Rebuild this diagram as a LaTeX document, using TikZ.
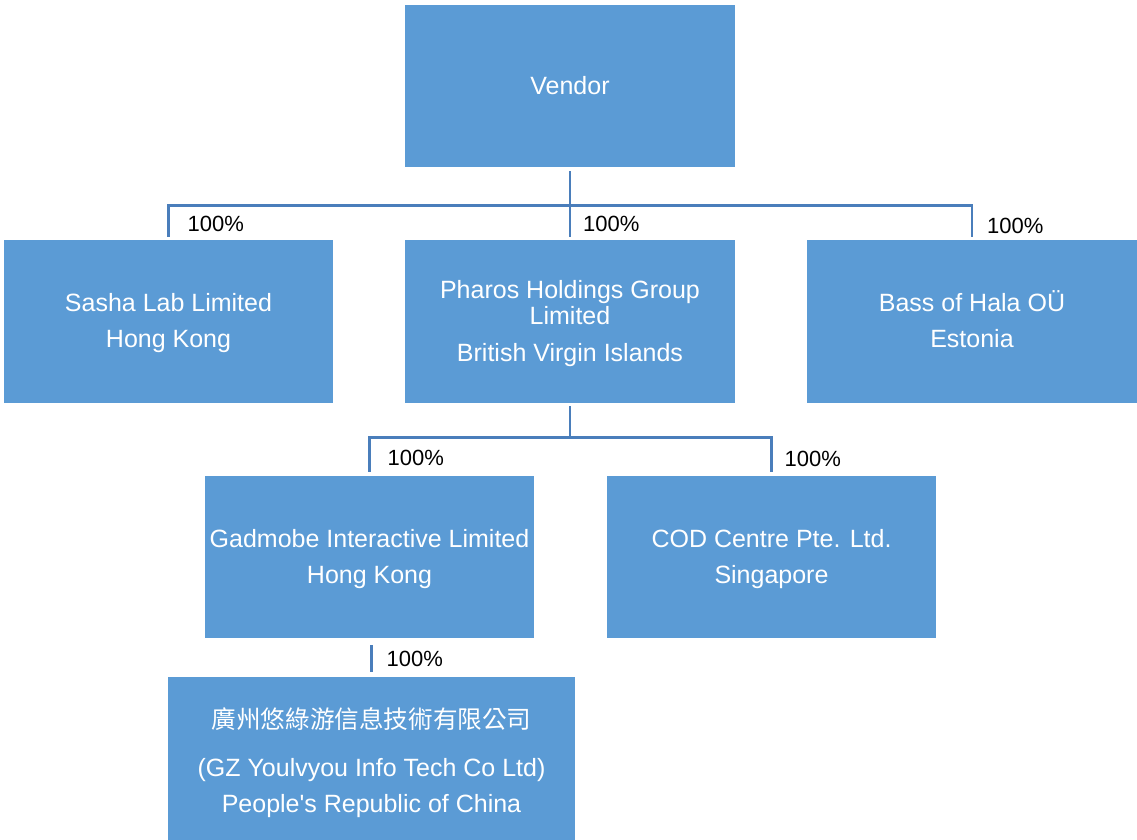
\documentclass[tikz,border=0pt]{standalone}
\usepackage{fontspec}
\usetikzlibrary{calc}
\setmainfont{Liberation Sans}
\newfontfamily\plainsans{Liberation Sans}
\newfontfamily\cjkfont{Noto Sans CJK TC}
\definecolor{boxblue}{HTML}{5B9BD5}
\definecolor{lineblue}{HTML}{4A7EBB}
\begin{document}
\begin{tikzpicture}[x=1pt,y=-1pt,
  orgbox/.style={rectangle, fill=boxblue, draw=none, inner sep=0pt},
  boxtext/.style={text=white, align=center, inner sep=0pt,
    font=\plainsans\fontsize{25}{26}\selectfont},
  conn/.style={draw=lineblue, line width=2.6pt},
  pct/.style={anchor=west, inner sep=0pt, font=\plainsans\fontsize{22}{24}\selectfont, text=black}]
\useasboundingbox (0,0) rectangle (1137,840);
% boxes
\node[orgbox, minimum width=330, minimum height=162] (vendor) at (570,86) {};
\node[orgbox, minimum width=329, minimum height=163] (sasha) at (168.5,321.5) {};
\node[orgbox, minimum width=330, minimum height=163] (pharos) at (570,321.5) {};
\node[orgbox, minimum width=330, minimum height=163] (bass) at (972,321.5) {};
\node[orgbox, minimum width=329, minimum height=162] (gadmobe) at (369.5,557) {};
\node[orgbox, minimum width=329, minimum height=162] (cod) at (771.5,557) {};
\node[orgbox, minimum width=407, minimum height=163] (gz) at (371.5,758.5) {};
% texts
\node[boxtext] (vendor-t) at (vendor.center) {Vendor};
\node[boxtext] (sasha-t) at ($(sasha.center)+(0,2)$) {Sasha Lab Limited\\[10pt]Hong Kong};
\node[boxtext] (pharos-t) at ($(pharos.center)+(0,2)$) {Pharos Holdings Group\\Limited\\[11pt]British Virgin Islands};
\node[boxtext] (bass-t) at ($(bass.center)+(0,-2)$) {Bass of Hala OÜ\\[10pt]Estonia};
\node[boxtext] (gadmobe-t) at ($(gadmobe.center)+(0,2)$) {Gadmobe Interactive Limited\\[10pt]Hong Kong};
\node[boxtext] (cod-t) at ($(cod.center)+(0,2)$) {COD Centre Pte. Ltd.\\[10pt]Singapore};
\node[boxtext] (gz-t) at ($(gz.center)+(0,4)$) {{\cjkfont\fontsize{24.6}{26}\selectfont 廣州悠綠游信息技術有限公司}\\[22pt](GZ Youlvyou Info Tech Co Ltd)\\[10pt]People's Republic of China};
% connectors from Vendor
\coordinate (vbar) at ($(vendor.south)+(0,38)$);
\draw[conn, shorten <=4pt, shorten >=3pt] (vendor.south) -- (vbar) -| (sasha.north);
\draw[conn, shorten <=4pt, shorten >=3pt] (vendor.south) -- (pharos.north);
\draw[conn, shorten <=4pt, shorten >=3pt] (vendor.south) -- (vbar) -| (bass.north);
% connectors from Pharos
\coordinate (pbar) at ($(pharos.south)+(0,34)$);
\draw[conn, shorten <=3pt, shorten >=4pt] (pharos.south) -- (pbar) -| (gadmobe.north);
\draw[conn, shorten <=3pt, shorten >=4pt] (pharos.south) -- (pbar) -| (cod.north);
% Gadmobe to GZ
\draw[conn, shorten <=5pt, shorten >=7pt] (gz.north) -- (gz.north |- gadmobe.south);
% labels
\node[pct] (l1) at ($(sasha.north)+(19,-16)$) {100\%};
\node[pct] (l2) at ($(pharos.north)+(13,-16)$) {100\%};
\node[pct] (l3) at ($(bass.north)+(15,-14)$) {100\%};
\node[pct] (l4) at ($(gadmobe.north)+(18,-18)$) {100\%};
\node[pct] (l5) at ($(cod.north)+(13,-17)$) {100\%};
\node[pct] (l6) at ($(gz.north)+(15,-18)$) {100\%};
\end{tikzpicture}
\end{document}
